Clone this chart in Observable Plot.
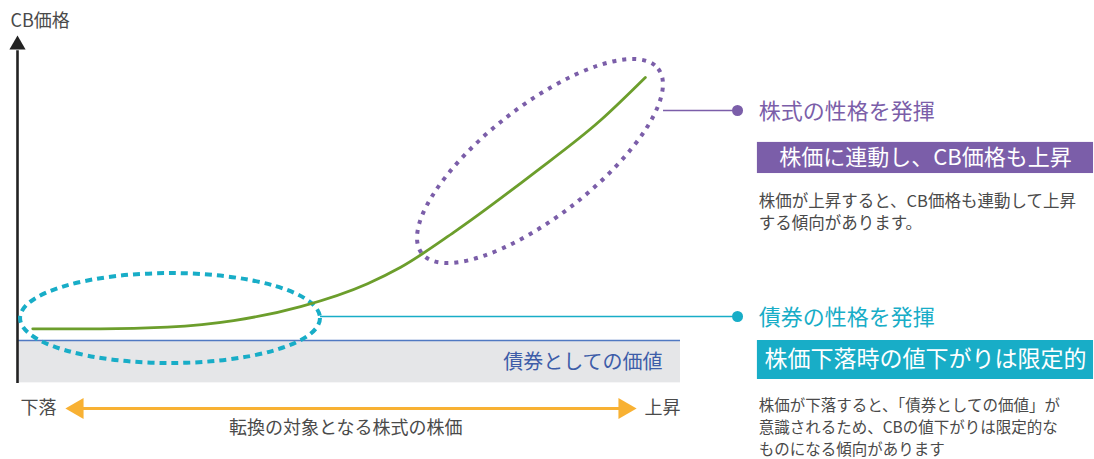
<!DOCTYPE html>
<html><head><meta charset="utf-8">
<script src="https://cdn.jsdelivr.net/npm/d3@7"></script>
<script src="https://cdn.jsdelivr.net/npm/@observablehq/plot@0.6"></script>
<style>body{margin:0;background:#fff;} svg{display:block;}</style>
</head><body><div id="chart"></div>
<script>
// ---- data (conceptual units: stock price 0–100, CB price 0–100) ----
const stockPrice = [2.3, 12.5, 22.6, 32.6, 42.7, 52.8, 57.8, 65.8, 77.8, 87.9, 94.7];
const cbPrice    = [15.7, 15.7, 16.2, 18.1, 22.2, 28.9, 33.7, 43.9, 61.1, 76.6, 89.2];
const bondValue  = 12.3;
const yAxisLabel = "CB価格";
const xAxisLabel = "転換の対象となる株式の株価";
const xEnds      = ["下落", "上昇"];
const bondLabel  = "債券としての価値";
const stockTitle = "株式の性格を発揮";
const stockBox   = "株価に連動し、CB価格も上昇";
const stockBody  = ["株価が上昇すると、CB価格も連動して上昇", "する傾向があります。"];
const bondTitle  = "債券の性格を発揮";
const bondBox    = "株価下落時の値下がりは限定的";
const bondBody   = ["株価が下落すると、「債券としての価値」が", "意識されるため、CBの値下がりは限定的な", "ものになる傾向があります"];

const curve = stockPrice.map((s, i) => ({s, c: cbPrice[i]}));

const C = {
  purple: "#7b5ea9", cyan: "#18adc7", green: "#6c9e2c", orange: "#f8b133",
  blueLine: "#5079c2", blueText: "#3d5da8", band: "#e5e6e8", text: "#4a4a4a", axis: "#222"
};

function ellipseMark({cx, cy, ex, ey, ratio, stroke, dash, width}) {
  return (index, scales) => {
    const px = scales.x(cx), py = scales.y(cy);
    const qx = scales.x(ex), qy = scales.y(ey);
    const a = Math.hypot(qx - px, qy - py);
    const ang = Math.atan2(qy - py, qx - px) * 180 / Math.PI;
    const el = document.createElementNS("http://www.w3.org/2000/svg", "ellipse");
    el.setAttribute("cx", 0); el.setAttribute("cy", 0);
    el.setAttribute("rx", a); el.setAttribute("ry", a * ratio);
    el.setAttribute("transform", `translate(${px},${py}) rotate(${ang})`);
    el.setAttribute("fill", "none");
    el.setAttribute("stroke", stroke);
    el.setAttribute("stroke-width", width);
    el.setAttribute("stroke-dasharray", dash);
    return el;
  };
}

const font = "'Noto Sans CJK JP', 'Noto Sans', sans-serif";
const T = (text, o) => Plot.text([text], {text: d => d, fontFamily: font, ...o});

const chart = Plot.plot({
  width: 1094, height: 459, margin: 0,
  x: {domain: [0, 100], range: [17, 680], axis: null},
  y: {domain: [0, 100], range: [382, 40], axis: null},
  style: {fontFamily: font, background: "white", overflow: "visible"},
  marks: [
    // bond floor band
    Plot.rect([bondValue], {x1: 0, x2: 100, y1: -0.1, y2: d => d, fill: C.band}),
    Plot.ruleY([bondValue], {x1: 0, x2: 100, stroke: C.blueLine, strokeWidth: 1.6}),
    T(bondLabel, {x: 97.3, y: 5.85, textAnchor: "end", fill: C.blueText, fontSize: 20}),
    // y axis
    Plot.ruleX([0], {y1: -0.3, y2: 97, stroke: C.axis, strokeWidth: 2.6}),
    Plot.dot([0], {x: 0, y: 98.7, symbol: "triangle", r: 6, fill: C.axis, stroke: "none"}),
    T(yAxisLabel, {x: -1.06, y: 105.6, textAnchor: "start", fill: C.text, fontSize: 18}),
    // ellipses
    ellipseMark({cx: 23.08, cy: 18.7, ex: 45.7, ey: 18.7, ratio: 0.3, stroke: C.cyan, dash: "7,5", width: 4}),
    ellipseMark({cx: 78.88, cy: 64.62, ex: 96.71, ey: 91.61, ratio: 0.367, stroke: C.purple, dash: "4,6", width: 4}),
    // CB price curve
    Plot.line(curve, {x: "s", y: "c", stroke: C.green, strokeWidth: 2.8, curve: "monotone-x"}),
    // connectors
    Plot.ruleY([79.53], {x1: 97.44, x2: 108.6, stroke: C.purple, strokeWidth: 1.5}),
    Plot.dot([0], {x: 108.6, y: 79.53, r: 5.5, fill: C.purple, stroke: "none"}),
    Plot.ruleY([19.3], {x1: 45.7, x2: 108.6, stroke: C.cyan, strokeWidth: 1.5}),
    Plot.dot([0], {x: 108.6, y: 19.3, r: 5.5, fill: C.cyan, stroke: "none"}),
    // stock annotation
    T(stockTitle, {x: 111.8, y: 79.2, textAnchor: "start", fill: C.purple, fontSize: 22}),
    Plot.rect([0], {x1: 111.6, x2: 162.3, y1: 61.1, y2: 70.2, fill: C.purple}),
    T(stockBox, {x: 136.95, y: 65.65, textAnchor: "middle", fill: "white", fontSize: 22}),
    T(stockBody.join("\n"), {x: 111.8, y: 50.2, textAnchor: "start", lineAnchor: "middle", lineHeight: 1.36, fill: C.text, fontSize: 16.5}),
    // bond annotation
    T(bondTitle, {x: 111.8, y: 18.9, textAnchor: "start", fill: C.cyan, fontSize: 22}),
    Plot.rect([0], {x1: 111.6, x2: 162.3, y1: 0.88, y2: 12.28, fill: C.cyan}),
    T(bondBox, {x: 136.95, y: 6.58, textAnchor: "middle", fill: "white", fontSize: 23}),
    T(bondBody.join("\n"), {x: 111.8, y: -12.57, textAnchor: "start", lineAnchor: "middle", lineHeight: 1.42, fill: C.text, fontSize: 15.5}),
    // x axis double arrow
    Plot.ruleY([-7.6], {x1: 9.05, x2: 91.55, stroke: C.orange, strokeWidth: 3}),
    Plot.dot([0], {x: 9.05, y: -7.6, symbol: "triangle", r: 7.8, rotate: -90, fill: C.orange, stroke: "none"}),
    Plot.dot([0], {x: 91.55, y: -7.6, symbol: "triangle", r: 7.8, rotate: 90, fill: C.orange, stroke: "none"}),
    T(xEnds[0], {x: 3.17, y: -7.6, textAnchor: "middle", fill: C.text, fontSize: 18}),
    T(xEnds[1], {x: 97.3, y: -7.6, textAnchor: "middle", fill: C.text, fontSize: 18}),
    T(xAxisLabel, {x: 49.5, y: -13.5, textAnchor: "middle", fill: C.text, fontSize: 18})
  ]
});
document.getElementById("chart").append(chart);
</script>
</body></html>
